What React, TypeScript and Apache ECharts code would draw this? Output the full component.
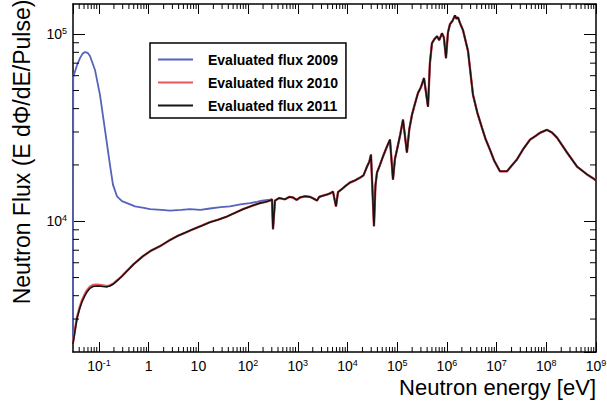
import { useEffect, useRef } from 'react';
import * as echarts from 'echarts';

const X_MIN = 0.03;
const X_MAX = 1e9;
const Y_MIN = 2000;
const Y_MAX = 145000;

const seriesNames = ['Evaluated flux 2009', 'Evaluated flux 2010', 'Evaluated flux 2011'];
const seriesColors = ['#5563bd', '#e8585a', '#151515'];

// 2009 low-energy part (before it joins the common curve)
const energy2009Low = [0.03, 0.0303, 0.036, 0.0415, 0.0465, 0.0522, 0.059, 0.0659, 0.0831, 0.1047,
  0.132, 0.166, 0.191, 0.23, 0.29, 0.366, 0.53, 0.8, 1.06, 1.8,
  2.68, 4.5, 6.78, 11, 17.1, 28, 43.2, 70, 109, 150, 190];
const flux2009Low = [2300, 59000, 68000, 74500, 78500, 80200, 79500, 76400, 64400, 47400,
  30800, 20100, 15700, 13600, 12800, 12500, 12000, 11800, 11600, 11500,
  11400, 11500, 11600, 11500, 11700, 11900, 12000, 12300, 12500, 12700, 12900];

// 2010 / 2011 low-energy part
const energyLow = [0.03, 0.033, 0.036, 0.0405, 0.0455, 0.0515, 0.0574, 0.0657, 0.0757, 0.095,
  0.12, 0.145, 0.166, 0.195, 0.23, 0.29, 0.366, 0.5, 0.767, 1.1,
  1.69, 2.5, 3.71, 5.5, 7.78, 12, 17.1, 25, 37.6, 55,
  78.9, 120, 173, 230, 276];
const flux2010Low = [2250, 2650, 3060, 3440, 3780, 4060, 4280, 4460, 4560, 4580,
  4540, 4500, 4540, 4650, 4820, 5090, 5430, 5900, 6500, 6950,
  7360, 7850, 8320, 8700, 9060, 9500, 9880, 10200, 10600, 11100,
  11600, 12100, 12500, 12700, 12900];
const flux2011Low = [2220, 2600, 3010, 3380, 3710, 3980, 4190, 4380, 4480, 4510,
  4480, 4460, 4510, 4620, 4800, 5080, 5420, 5900, 6510, 6950,
  7360, 7850, 8320, 8700, 9060, 9500, 9880, 10200, 10600, 11100,
  11600, 12100, 12500, 12700, 12900];

// common high-energy part (all three evaluations)
const energyHigh = [303, 317, 348, 420, 552, 680, 800, 950, 1107, 1400,
  1760, 2100, 2430, 2700, 3200, 3870, 4500, 5110, 5870, 6440,
  7800, 9300, 11200, 14000, 17900, 21000, 24700, 27500, 29700, 34100,
  36500, 39200, 45000, 51800, 60000, 66000, 71600, 82300, 90000, 99000,
  115000, 130900, 157000, 175000, 198500, 225000, 262000, 300000, 346000, 417000,
  455000, 501000, 560000, 632000, 700000, 797000, 870000, 959000, 1.05e6, 1.153e6,
  1.3e6, 1.455e6, 1.55e6, 1.67e6, 1.85e6, 2.11e6, 2.66e6, 3.35e6, 4.1e6, 5.08e6,
  6e6, 7.36e6, 9e6, 1.17e7, 1.62e7, 2.0e7, 2.57e7, 3.5e7, 4.7e7, 6e7,
  7.47e7, 1.03e8, 1.3e8, 1.64e8, 2.61e8, 4.15e8, 6.59e8, 9.55e8, 1e9];
const fluxHigh = [13100, 9060, 12900, 13300, 13100, 13500, 13400, 13000, 13400, 13600,
  13500, 13200, 12900, 13500, 13700, 13900, 14100, 14400, 12000, 14300,
  14900, 15500, 16100, 16500, 17100, 17600, 19600, 20800, 22700, 9400,
  15500, 18200, 20000, 22200, 24500, 26000, 27300, 16700, 21500, 24100,
  29000, 34900, 23300, 31000, 37100, 42000, 48500, 52000, 58300, 40900,
  70000, 89500, 94000, 97500, 93000, 101200, 96000, 74500, 102000, 113000,
  118000, 126000, 121000, 123000, 114000, 105000, 81300, 47400, 38000, 31600,
  27500, 24100, 21000, 18500, 18500, 19800, 21400, 24500, 27300, 28500,
  29700, 30800, 29800, 28000, 23300, 19600, 17800, 16700, 16500];

// decade exponents labelled on the x axis
const xTickExponents = [-1, 0, 1, 2, 3, 4, 5, 6, 7, 8, 9];
const minorMultipliers = [2, 3, 4, 5, 6, 7, 8, 9];

const FONT = '"Liberation Sans", Arial, Helvetica, sans-serif';

const zip = (xs: number[], ys: number[]) => xs.map((x, i) => [x, ys[i]]);

const xMinorTicks: number[] = [];
for (let k = -2; k <= 8; k++) {
  for (const m of minorMultipliers) {
    const v = m * Math.pow(10, k);
    if (v > X_MIN && v < X_MAX) xMinorTicks.push(v);
  }
}
const yMinorTicks: number[] = [];
for (let k = 3; k <= 5; k++) {
  for (const m of minorMultipliers) {
    const v = m * Math.pow(10, k);
    if (v > Y_MIN && v < Y_MAX) yMinorTicks.push(v);
  }
}

const supRich = {
  b: { fontSize: 14, fontFamily: FONT, color: '#000', lineHeight: 16 },
  s: { fontSize: 9, fontFamily: FONT, color: '#000', verticalAlign: 'top', lineHeight: 10 },
};

const expLabel = (e: number) => (e === 0 ? '{b|1}' : e === 1 ? '{b|10}' : `{b|10}{s|${e}}`);

const axisLine = { show: true, onZero: false, lineStyle: { color: '#000', width: 1.5 } };

export default function App() {
  const ref = useRef<HTMLDivElement>(null);
  useEffect(() => {
    const chart = echarts.init(ref.current!, null, { renderer: 'svg' });
    const lx = Math.log10(X_MIN);
    const option: any = {
      animation: false,
      backgroundColor: '#fff',
      grid: { left: 73, right: 11, top: 4, bottom: 52, outerBoundsMode: 'none', containLabel: false },
      legend: {
        data: seriesNames,
        orient: 'vertical',
        left: 150,
        top: 43,
        padding: [9, 8, 5, 8],
        itemGap: 8,
        itemWidth: 35,
        itemHeight: 2,
        icon: 'rect',
        borderColor: '#000',
        borderWidth: 1.5,
        backgroundColor: '#fff',
        textStyle: { fontSize: 14, lineHeight: 15, fontWeight: 'bold', fontFamily: FONT, color: '#000', padding: [0, 0, 0, 10] },
      },
      xAxis: [
        { type: 'log', min: X_MIN, max: X_MAX, position: 'bottom', show: false, axisLine: { onZero: false } },
        {
          type: 'value', min: lx, max: xTickExponents[xTickExponents.length - 1], position: 'bottom',
          splitNumber: 10, minInterval: 1, maxInterval: 1,
          axisLine,
          axisTick: { inside: true, length: 10, lineStyle: { color: '#000', width: 1 } },
          splitLine: { show: false },
          axisLabel: {
            showMinLabel: false, showMaxLabel: true, margin: 6,
            formatter: (v: number) => (xTickExponents.includes(Math.round(v)) && Math.abs(v - Math.round(v)) < 1e-6 ? expLabel(Math.round(v)) : ''),
            rich: supRich,
          },
          name: 'Neutron energy [eV]',
          nameLocation: 'end',
          nameGap: 0,
          nameTextStyle: { fontSize: 22, fontFamily: FONT, color: '#000', align: 'right', verticalAlign: 'top', padding: [24, 0, 0, 0] },
        },
        {
          type: 'value', min: lx, max: 9, position: 'top',
          splitNumber: 10, minInterval: 1, maxInterval: 1,
          axisLine,
          axisTick: { inside: true, length: 10, lineStyle: { color: '#000', width: 1 } },
          splitLine: { show: false },
          axisLabel: { show: false },
        },
      ],
      yAxis: [
        {
          type: 'log', min: Y_MIN, max: Y_MAX, position: 'left',
          axisLine,
          axisTick: { inside: true, length: 12, lineStyle: { color: '#000', width: 1 } },
          splitLine: { show: false },
          axisLabel: {
            showMinLabel: false, showMaxLabel: false, margin: 6,
            formatter: (v: number) => expLabel(Math.round(Math.log10(v))),
            rich: supRich,
          },
          name: 'Neutron Flux (E dΦ/dE/Pulse)',
          nameLocation: 'middle',
          nameGap: 40,
          nameRotate: 90,
          nameTextStyle: { fontSize: 23, fontFamily: FONT, color: '#000', padding: [0, 0, 0, 52] },
        },
        {
          type: 'log', min: Y_MIN, max: Y_MAX, position: 'right',
          axisLine,
          axisTick: { inside: true, length: 12, lineStyle: { color: '#000', width: 1 } },
          splitLine: { show: false },
          axisLabel: { show: false },
        },
      ],
      series: [
        {
          name: seriesNames[0], type: 'line', xAxisIndex: 0, yAxisIndex: 0,
          data: zip(energy2009Low, flux2009Low).concat(zip(energyHigh, fluxHigh)),
          showSymbol: false, symbol: 'none', color: seriesColors[0],
          lineStyle: { color: seriesColors[0], width: 1.8 },
        },
        {
          name: seriesNames[1], type: 'line', xAxisIndex: 0, yAxisIndex: 0,
          data: zip(energyLow, flux2010Low).concat(zip(energyHigh, fluxHigh)),
          showSymbol: false, symbol: 'none', color: seriesColors[1],
          lineStyle: { color: seriesColors[1], width: 2.4 },
        },
        {
          name: seriesNames[2], type: 'line', xAxisIndex: 0, yAxisIndex: 0,
          data: zip(energyLow, flux2011Low).concat(zip(energyHigh, fluxHigh)),
          showSymbol: false, symbol: 'none', color: seriesColors[2],
          lineStyle: { color: seriesColors[2], width: 1.6 },
        },
        {
          type: 'custom', xAxisIndex: 0, yAxisIndex: 0, silent: true, z: 5,
          data: xMinorTicks.map((v) => [v, Y_MIN]),
          renderItem: (_p: any, api: any) => {
            const v = api.value(0);
            const b = api.coord([v, Y_MIN]);
            const t = api.coord([v, Y_MAX]);
            const st = { stroke: '#000', lineWidth: 1 };
            return {
              type: 'group',
              children: [
                { type: 'line', shape: { x1: b[0], y1: b[1], x2: b[0], y2: b[1] - 5 }, style: st },
                { type: 'line', shape: { x1: t[0], y1: t[1], x2: t[0], y2: t[1] + 5 }, style: st },
              ],
            };
          },
        },
        {
          type: 'custom', xAxisIndex: 0, yAxisIndex: 0, silent: true, z: 5,
          data: yMinorTicks.map((v) => [X_MIN, v]),
          renderItem: (_p: any, api: any) => {
            const v = api.value(1);
            const l = api.coord([X_MIN, v]);
            const r = api.coord([X_MAX, v]);
            const st = { stroke: '#000', lineWidth: 1 };
            return {
              type: 'group',
              children: [
                { type: 'line', shape: { x1: l[0], y1: l[1], x2: l[0] + 6, y2: l[1] }, style: st },
                { type: 'line', shape: { x1: r[0], y1: r[1], x2: r[0] - 6, y2: r[1] }, style: st },
              ],
            };
          },
        },
      ],
    };
    chart.setOption(option);
    return () => chart.dispose();
  }, []);
  return (
    <div
      ref={ref}
      style={{ position: 'fixed', left: 0, top: 0, width: 607, height: 404, background: '#fff' }}
    />
  );
}
